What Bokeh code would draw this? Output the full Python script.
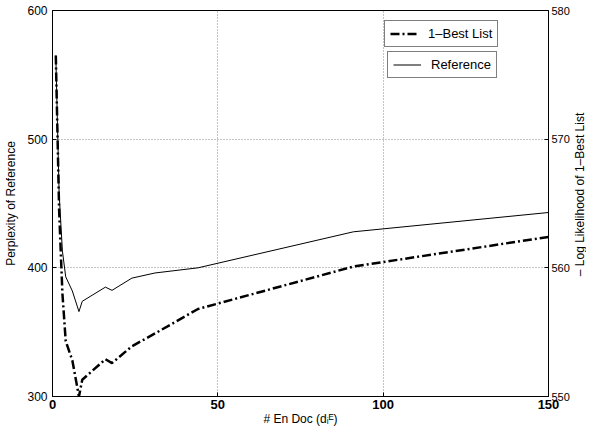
from bokeh.plotting import figure
from bokeh.models import (LinearAxis, Range1d, FixedTicker, Legend, LegendItem,
                          ColumnDataSource)
from bokeh.layouts import row
from bokeh.core.properties import value
from bokeh.embed import file_html
from bokeh.resources import INLINE
import math

# ---- data ----
x_docs = [1, 2, 3, 4, 6, 8, 9, 16, 18, 24, 31, 44, 91, 150]
ref_perplexity = [565, 458, 413, 393, 382, 366, 374, 385, 382.5, 392, 396, 400, 428, 443]
best_loglik = [576.5, 564.5, 558.0, 554.3, 552.8, 550.0, 551.3, 552.9, 552.6,
               553.9, 554.9, 556.8, 560.1, 562.4]

x_ticks = [0, 50, 100, 150]
left_ticks = [300, 400, 500, 600]
right_ticks = [550, 560, 570, 580]

x_label = "# En Doc (d\u1d62\u1d31)"
left_label = "Perplexity of Reference"
right_label = "\u2013 Log Likelihood of 1\u2013Best List"
best_name = "1\u2013Best List"
ref_name = "Reference"

FONT = "Liberation Sans"

W, H = 572, 428
LW = 14                      # width of the strip holding the right-hand axis title
BL, BR, BT, BB = 52, 22, 10, 30
FW = W - BL - BR
FH = H - BT - BB

src = ColumnDataSource(dict(x=x_docs, ref=ref_perplexity, best=best_loglik))

p = figure(width=W, height=H, x_range=Range1d(0, 150), y_range=Range1d(300, 600),
           output_backend="svg", toolbar_location=None,
           min_border_left=BL, min_border_right=BR, min_border_top=BT,
           min_border_bottom=BB)
p.extra_y_ranges = {"right": Range1d(550, 580)}

p.background_fill_color = "white"
p.border_fill_color = "white"
p.outline_line_color = "black"
p.outline_line_width = 1

r_ref = p.line("x", "ref", source=src, line_color="black", line_width=1)
r_best = p.line("x", "best", source=src, y_range_name="right", line_color="black",
                line_width=2.5, line_dash="9 3 2 3")

right_axis = LinearAxis(y_range_name="right")
p.add_layout(right_axis, "right")

def style_axis(ax, ticks, size="12px", bold=False):
    ax.ticker = FixedTicker(ticks=ticks)
    ax.axis_line_color = "black"
    ax.major_tick_line_color = "black"
    ax.major_tick_in = 4
    ax.major_tick_out = 0
    ax.minor_tick_line_color = None
    ax.major_label_text_font = FONT
    ax.major_label_text_font_size = size
    ax.major_label_text_color = "black"
    ax.major_label_text_font_style = "bold" if bold else "normal"
    ax.axis_label_text_font = FONT
    ax.axis_label_text_font_size = "12px"
    ax.axis_label_text_font_style = "normal"
    ax.axis_label_text_color = "black"

style_axis(p.xaxis[0], x_ticks, "13px", bold=True)
p.xaxis[0].axis_label = x_label
p.xaxis[0].major_label_standoff = 3
p.xaxis[0].axis_label_standoff = 0

style_axis(p.yaxis[0], left_ticks)
p.yaxis[0].axis_label = left_label
p.yaxis[0].major_label_standoff = 5
p.yaxis[0].axis_label_standoff = 6

style_axis(right_axis, right_ticks, "11px")
right_axis.major_label_standoff = 3

for g, t in ((p.xgrid[0], x_ticks), (p.ygrid[0], left_ticks)):
    g.ticker = FixedTicker(ticks=t)
    g.grid_line_color = "#888888"
    g.grid_line_dash = "1 2"
    g.grid_line_width = 1

def make_legend(item, loc):
    lg = Legend(items=[item], location=loc)
    lg.border_line_color = "black"
    lg.border_line_width = 1
    lg.background_fill_color = "white"
    lg.background_fill_alpha = 1
    lg.label_text_font = FONT
    lg.label_text_font_size = "13px"
    lg.label_text_color = "black"
    lg.padding = 5
    lg.spacing = 0
    lg.margin = 0
    lg.glyph_width = 28
    lg.glyph_height = 11
    lg.label_height = 11
    lg.label_standoff = 10
    return lg

lx = round(FW * 100 / 150)
p.add_layout(make_legend(LegendItem(label=best_name, renderers=[r_best]), (lx, FH - 39)))
p.add_layout(make_legend(LegendItem(label=ref_name, renderers=[r_ref]), (lx + 3, FH - 70)))

# narrow strip carrying the right-hand axis title, reading bottom to top
q = figure(width=LW, height=H, x_range=Range1d(0, LW), y_range=Range1d(0, H),
           output_backend="svg", toolbar_location=None, min_border=0)
q.axis.visible = False
q.grid.visible = False
q.outline_line_color = None
q.background_fill_color = "white"
q.border_fill_color = "white"
q.text(x=[LW / 2], y=[H - (BT + FH / 2)], text=[right_label], angle=math.pi / 2,
       text_align="center", text_baseline="middle", text_font_size="12px",
       text_color="black", text_font=value(FONT))

layout = row(p, q, spacing=0)
open("out.html", "w").write(file_html(layout, INLINE))
